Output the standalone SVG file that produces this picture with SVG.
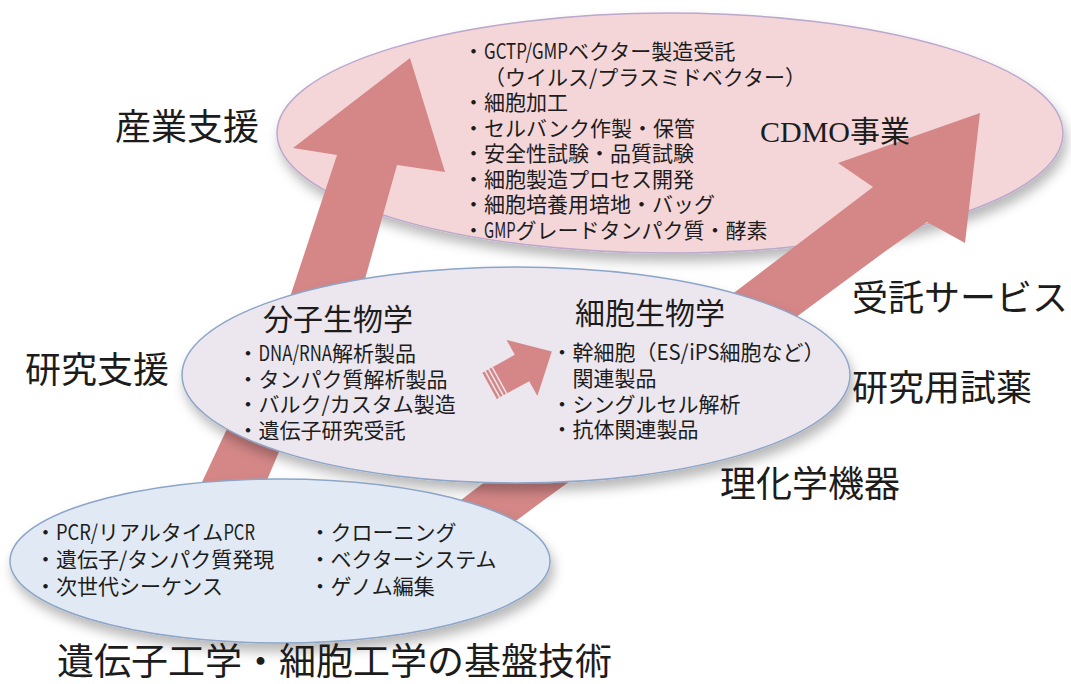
<svg xmlns="http://www.w3.org/2000/svg" width="1071" height="684" viewBox="0 0 1071 684">
<defs>
<filter id="sh" x="-20%" y="-20%" width="140%" height="150%">
<feDropShadow dx="3" dy="8" stdDeviation="6" flood-color="#000" flood-opacity="0.28"/>
</filter>
</defs>
<style>
text{font-family:"Noto Sans CJK JP",sans-serif;fill:#1c1c1c;dominant-baseline:central}
.b{font-size:21px}
.h{font-size:30px}
.lab{font-size:36px}
.arr{fill:#d58787}
</style>
<rect width="1071" height="684" fill="#fff"/>

<g id="node-cdmo">
<ellipse cx="670" cy="133" rx="393" ry="120" fill="#f4d6d9" stroke="#bba8cc" stroke-width="1.5" filter="url(#sh)"/>
<text class="b" x="463" y="50">・<tspan textLength="84" lengthAdjust="spacingAndGlyphs">GCTP/GMP</tspan>ベクター製造受託</text>
<text class="b" x="484" y="75.5">（ウイルス/プラスミドベクター）</text>
<text class="b" x="463" y="101">・細胞加工</text>
<text class="b" x="463" y="126.5">・セルバンク作製・保管</text>
<text class="b" x="463" y="152">・安全性試験・品質試験</text>
<text class="b" x="463" y="177.5">・細胞製造プロセス開発</text>
<text class="b" x="463" y="203">・細胞培養用培地・バッグ</text>
<text class="b" x="463" y="228.5">・<tspan textLength="31.5" lengthAdjust="spacingAndGlyphs">GMP</tspan>グレードタンパク質・酵素</text>
</g>

<g id="connectors">
<path class="arr" d="M410,58 L445,172 L397,165 L360,297 L287,433 L267,480 L255,520 L188,512 L203,480 L225,433 L290,297 L337,155 L293,148 Z"/>
<path class="arr" d="M980,113 L965,243 L927,222 L887,250 L803,312 L544,500 L470,555 L398,548 L461,500 L735,292 L873,187 L838,163 Z"/>
</g>

<g id="label-cdmo">
<text x="760" y="131" style="font-size:30px;font-family:'Liberation Serif','Noto Sans CJK JP',serif">CDMO事業</text>
</g>

<g id="node-research">
<ellipse cx="516" cy="375" rx="334" ry="108" fill="#ece6ef" stroke="#8ca5c8" stroke-width="1.5" filter="url(#sh)"/>
<text class="h" x="263" y="316.5">分子生物学</text>
<text class="b" x="237.5" y="352">・<tspan textLength="73.5" lengthAdjust="spacingAndGlyphs">DNA/RNA</tspan>解析製品</text>
<text class="b" x="237.5" y="377.5">・タンパク質解析製品</text>
<text class="b" x="237.5" y="403">・バルク/カスタム製造</text>
<text class="b" x="237.5" y="428.5">・遺伝子研究受託</text>
<text class="h" x="575" y="311">細胞生物学</text>
<text class="b" x="551.5" y="351">・幹細胞（<tspan textLength="63" lengthAdjust="spacingAndGlyphs">ES/iPS</tspan>細胞など）</text>
<text class="b" x="572.5" y="377">関連製品</text>
<text class="b" x="551.5" y="403">・シングルセル解析</text>
<text class="b" x="551.5" y="428">・抗体関連製品</text>
<g transform="translate(522,368) rotate(-28.8)">
<path class="arr" d="M0,-32 L34,0 L0,32 L0,15 L-25,15 L-25,-15 L0,-15 Z"/>
<rect class="arr" x="-29" y="-15" width="2.5" height="30"/>
<rect class="arr" x="-33" y="-15" width="2.5" height="30"/>
<rect class="arr" x="-37" y="-15" width="2.5" height="30"/>
</g>
</g>

<g id="node-base">
<ellipse cx="280" cy="561" rx="270" ry="82" fill="#e1eaf4" stroke="#8ca5c8" stroke-width="1.5" filter="url(#sh)"/>
<text class="b" x="35" y="531">・<tspan textLength="42" lengthAdjust="spacingAndGlyphs">PCR/</tspan>リアルタイム<tspan textLength="31.5" lengthAdjust="spacingAndGlyphs">PCR</tspan></text>
<text class="b" x="35" y="558">・遺伝子/タンパク質発現</text>
<text class="b" x="35" y="585">・次世代シーケンス</text>
<text class="b" x="309.5" y="531">・クローニング</text>
<text class="b" x="309.5" y="558">・ベクターシステム</text>
<text class="b" x="309.5" y="585">・ゲノム編集</text>
</g>

<g id="labels">
<text class="lab" x="115" y="124">産業支援</text>
<text class="lab" x="25" y="367">研究支援</text>
<text class="lab" x="852" y="295">受託サービス</text>
<text class="lab" x="852" y="385">研究用試薬</text>
<text class="lab" x="720" y="481">理化学機器</text>
<text x="57" y="659" style="font-size:37px">遺伝子工学・細胞工学の基盤技術</text>
</g>
</svg>
